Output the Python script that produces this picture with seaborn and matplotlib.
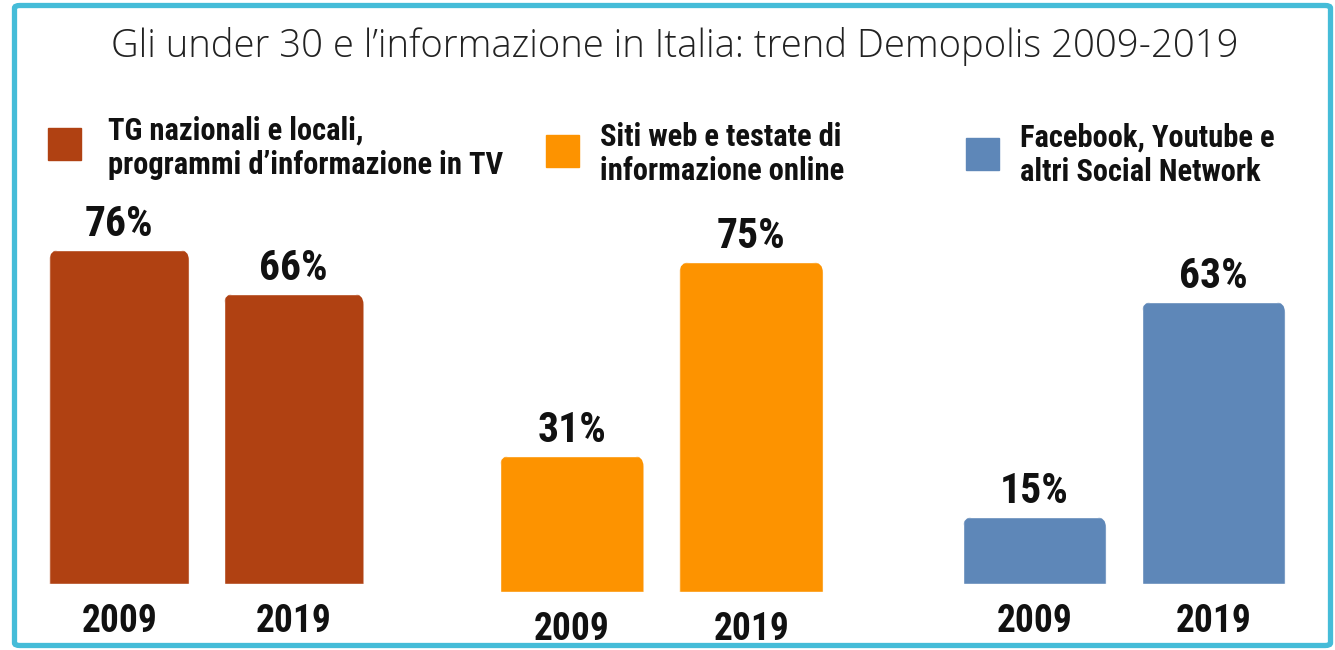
import matplotlib
matplotlib.use('Agg')
import matplotlib.pyplot as plt
import seaborn as sns
import pandas as pd
from matplotlib.patches import FancyBboxPatch, Rectangle

# dati
anni = ['2009', '2019']
tv = [76, 66]
web = [31, 75]
social = [15, 63]
gruppi = ['TV', 'Web', 'Social']
etichette = ['TG nazionali e locali,\nprogrammi d\u2019informazione in TV',
             'Siti web e testate di\ninformazione online',
             'Facebook, Youtube e\naltri Social Network']
colori = ['#B04112', '#FD9300', '#5E87B8']
titolo = 'Gli under 30 e l\u2019informazione in Italia: trend Demopolis 2009-2019'

df = pd.DataFrame({
    'gruppo': [g for g in gruppi for _ in anni],
    'anno': anni * 3,
    'valore': tv + web + social,
})

sns.set_style('white')
cond = ['Roboto Condensed', 'DejaVu Sans']

W, H = 1335, 650
fig = plt.figure(figsize=(W / 100, H / 100), dpi=100)


def fx(px):
    return px / W


def fy(py):
    return 1 - py / H


# left, width, baseline (px), px per percent
layout = [(32, 349, 584, 4.4), (482, 359, 592, 4.4), (945, 358, 584, 4.48)]
legend_pos = [((48, 128), (108, 148)), ((546, 135), (600, 154)), ((966, 138), (1020, 155))]

for i, g in enumerate(gruppi):
    left, width, base, scale = layout[i]
    hpx = 440
    ax = fig.add_axes([fx(left), fy(base), fx(width), hpx / H])
    sub = df[df['gruppo'] == g]
    sns.barplot(data=sub, x='anno', y='valore', color=colori[i], saturation=1,
                width=0.8, ax=ax)
    ax.set_xlim(-0.5, 1.5)
    ax.set_ylim(0, hpx / scale)
    sns.despine(ax=ax, left=True, bottom=True)
    ax.set_yticks([])
    ax.set_xlabel('')
    ax.set_ylabel('')
    ax.tick_params(axis='x', length=0, pad=14)
    for lab in ax.get_xticklabels():
        lab.set_fontfamily(cond)
        lab.set_fontstretch('condensed')
        lab.set_fontweight('bold')
        lab.set_fontsize(27)
        lab.set_color('#111111')

    # rounded tops
    p0 = ax.transData.transform((0, 0))
    p1 = ax.transData.transform((1, 1))
    ppx, ppy = p1[0] - p0[0], p1[1] - p0[1]
    r = 11
    for bar, v in zip(ax.patches, sub['valore']):
        x0, w, h = bar.get_x(), bar.get_width(), bar.get_height()
        clip = FancyBboxPatch((x0, -20), w, h + 20,
                              boxstyle=f'round,pad=0,rounding_size={r / ppx}',
                              mutation_aspect=ppx / ppy, transform=ax.transData)
        bar.set_clip_path(clip)
        ax.annotate(f'{v}%', xy=(x0 + w / 2, h), xytext=(0, 10),
                    textcoords='offset points', ha='center', va='baseline',
                    fontsize=30, fontweight='bold', family=cond,
                    fontstretch='condensed', color='#111111')

    (sx, sy), (tx, ty) = legend_pos[i]
    fig.patches.append(Rectangle((fx(sx), fy(sy + 32)), fx(33), 32 / H,
                                 transform=fig.transFigure, color=colori[i]))
    fig.text(fx(tx), fy(ty), etichette[i], ha='left', va='center', fontsize=22,
             fontweight='bold', family=cond, fontstretch='condensed',
             linespacing=1.2, color='#111111')

fig.text(fx(675), fy(46), titolo, ha='center', va='center', fontsize=27.5,
         family=['Open Sans', 'DejaVu Sans'], fontweight='light', color='#222222')

fig.patches.append(FancyBboxPatch((fx(14.5), fy(645.5)), fx(1316), 640 / H,
                                  boxstyle='round,pad=0,rounding_size=0.004',
                                  transform=fig.transFigure, fill=False,
                                  edgecolor='#45BCD8', linewidth=3.8))

fig.savefig('out.png', dpi=100)
